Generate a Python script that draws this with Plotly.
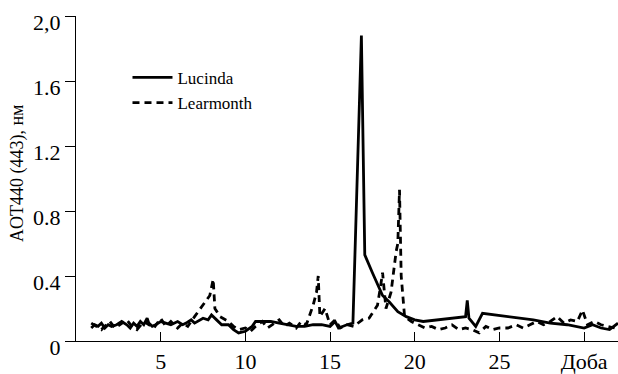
import plotly.graph_objects as go

# Lucinda (solid)
lucinda_day = [0.9, 1.1, 1.3, 1.5, 1.7, 1.9, 2.1, 2.4, 2.7, 3.0, 3.2, 3.4, 3.6, 3.8, 4.0, 4.2,
               4.3, 4.5, 4.7, 5.0, 5.3, 5.6, 6.0, 6.3, 6.5, 6.8, 7.0, 7.3, 7.5, 7.8, 8.0, 8.3,
               8.6, 9.0, 9.3, 9.6, 10.0, 10.4, 10.6, 11.0, 11.5, 12.0, 12.5, 13.0, 13.5, 14.0,
               14.5, 15.0, 15.3, 15.5, 16.0, 16.35, 16.85, 17.05, 17.5, 18.1, 18.5, 19.0,
               19.5, 20.0, 20.5, 23.0, 23.1, 23.2, 23.6, 24.0, 27.0, 28.0, 29.0, 30.0, 30.5,
               31.0, 31.5, 32.0]
lucinda_aot = [0.08, 0.10, 0.09, 0.11, 0.08, 0.10, 0.09, 0.10, 0.12, 0.10, 0.08, 0.11, 0.09,
               0.12, 0.10, 0.14, 0.11, 0.09, 0.10, 0.12, 0.11, 0.10, 0.12, 0.10, 0.11, 0.13,
               0.11, 0.13, 0.14, 0.13, 0.16, 0.13, 0.10, 0.10, 0.07, 0.05, 0.06, 0.09, 0.12,
               0.12, 0.12, 0.11, 0.10, 0.09, 0.09, 0.10, 0.10, 0.09, 0.12, 0.08, 0.10, 0.11,
               1.88, 0.53, 0.42, 0.28, 0.24, 0.18, 0.15, 0.13, 0.12, 0.15, 0.25, 0.14, 0.09,
               0.17, 0.13, 0.11, 0.10, 0.08, 0.10, 0.08, 0.07, 0.11]

# Learmonth (dashed)
learmonth_day = [0.9, 1.2, 1.5, 1.8, 2.0, 2.3, 2.6, 3.0, 3.3, 3.6, 4.0, 4.3, 4.6, 5.0, 5.3, 5.6,
                 6.0, 6.3, 6.6, 7.0, 7.5, 7.9, 8.1, 8.2, 8.5, 9.0, 9.3, 9.6, 10.0, 10.3, 10.6,
                 11.0, 11.3, 11.6, 12.0, 12.3, 12.6, 13.0, 13.3, 13.6, 14.0, 14.2, 14.3, 14.4,
                 14.7, 15.0, 15.3, 15.6, 16.0, 16.4, 16.9, 17.3, 17.8, 18.0, 18.1, 18.3, 18.6,
                 18.9, 19.0, 19.1, 19.2, 19.4, 19.8, 20.2, 20.6, 21.0, 21.4, 21.8, 22.2, 22.6,
                 23.0, 23.4, 23.8, 24.2, 24.6, 25.0, 25.5, 26.0, 26.4, 26.8, 27.2, 27.6, 28.0,
                 28.4, 28.8, 29.2, 29.6, 29.9, 30.2, 30.6, 31.0, 31.4, 31.8]
learmonth_aot = [0.11, 0.09, 0.07, 0.10, 0.12, 0.08, 0.10, 0.13, 0.09, 0.07, 0.12, 0.10, 0.08,
                 0.14, 0.09, 0.12, 0.08, 0.11, 0.09, 0.15, 0.22, 0.28, 0.38, 0.20, 0.15, 0.12,
                 0.09, 0.07, 0.08, 0.06, 0.09, 0.12, 0.08, 0.10, 0.13, 0.09, 0.11, 0.08, 0.12,
                 0.10, 0.22, 0.30, 0.40, 0.15, 0.20, 0.10, 0.13, 0.08, 0.10, 0.09, 0.13, 0.14,
                 0.22, 0.35, 0.42, 0.20, 0.30, 0.55, 0.60, 0.93, 0.40, 0.15, 0.12, 0.10, 0.08,
                 0.09, 0.07, 0.08, 0.10, 0.07, 0.08, 0.07, 0.05, 0.09, 0.07, 0.08, 0.08, 0.10,
                 0.08, 0.10, 0.12, 0.10, 0.12, 0.15, 0.11, 0.13, 0.12, 0.19, 0.10, 0.12, 0.10,
                 0.09, 0.08]

x_tickvals = [5, 10, 15, 20, 25, 30]
x_ticktext = ["5", "10", "15", "20", "25", "Доба"]
y_tickvals = [0, 0.4, 0.8, 1.2, 1.6, 2.0]
y_ticktext = ["0", "0.4", "0.8", "1.2", "1.6", "2,0"]

FONT = "Liberation Serif"

fig = go.Figure()
fig.add_trace(go.Scatter(x=lucinda_day, y=lucinda_aot, mode="lines", name="Lucinda",
                         line=dict(color="black", width=2.8)))
fig.add_trace(go.Scatter(x=learmonth_day, y=learmonth_aot, mode="lines", name="Learmonth",
                         line=dict(color="black", width=2.8, dash="7px,5px")))

pw = 618 - 76 - 0
ph = 374 - 16 - 33

fig.update_layout(
    width=618, height=374,
    margin=dict(l=76, r=0, t=16, b=33),
    paper_bgcolor="white", plot_bgcolor="white",
    font=dict(family=FONT, color="black", size=19),
    showlegend=True,
    legend=dict(x=0.095, y=0.865, xanchor="left", yanchor="top",
                font=dict(family=FONT, size=17), bgcolor="rgba(0,0,0,0)",
                tracegroupgap=0, itemwidth=40),
    xaxis=dict(range=[0, 32], tickvals=x_tickvals, ticktext=x_ticktext,
               showline=True, linecolor="black", linewidth=1.2, mirror=False,
               ticks="inside", ticklen=9, tickwidth=1.2, tickcolor="black",
               showgrid=False, zeroline=False, tickfont=dict(family=FONT, size=22)),
    yaxis=dict(range=[0, 2.0], tickvals=y_tickvals, ticktext=y_ticktext,
               showline=True, linecolor="black", linewidth=1.2, mirror=False,
               ticks="outside", ticklen=10, tickwidth=1.2, tickcolor="black",
               showgrid=False, zeroline=False, tickfont=dict(family=FONT, size=22),
               ticklabelshift=6),
    annotations=[dict(text="AOT440 (443), нм", textangle=-90,
                      x=(17 - 76) / pw, y=(374 - 33 - 173) / ph,
                      xref="paper", yref="paper", xanchor="center", yanchor="middle",
                      showarrow=False, font=dict(family=FONT, size=18))],
)

fig.write_html("out.html")
